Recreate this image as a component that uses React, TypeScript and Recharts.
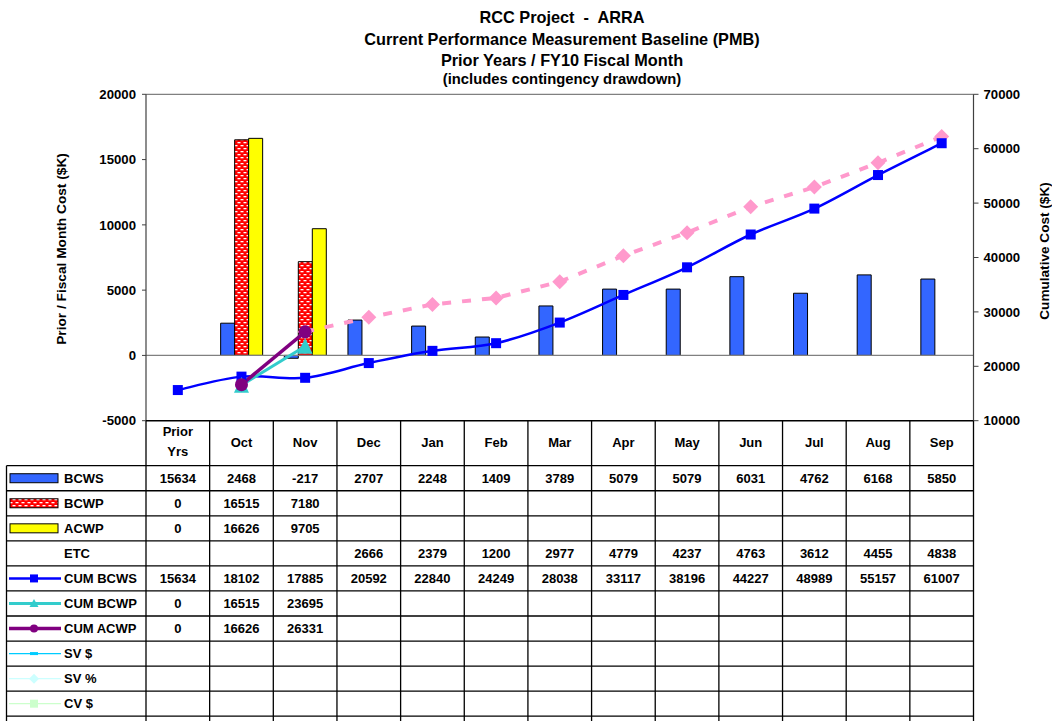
import React from 'react';
import { ComposedChart, Bar, Line, XAxis, YAxis, ReferenceLine } from 'recharts';

const categories = ['Prior Yrs', 'Oct', 'Nov', 'Dec', 'Jan', 'Feb', 'Mar', 'Apr', 'May', 'Jun', 'Jul', 'Aug', 'Sep'];
const bcws = [15634, 2468, -217, 2707, 2248, 1409, 3789, 5079, 5079, 6031, 4762, 6168, 5850];
const bcwp = [0, 16515, 7180, null, null, null, null, null, null, null, null, null, null];
const acwp = [0, 16626, 9705, null, null, null, null, null, null, null, null, null, null];
const etc = [null, null, null, 2666, 2379, 1200, 2977, 4779, 4237, 4763, 3612, 4455, 4838];
const cumBcws = [15634, 18102, 17885, 20592, 22840, 24249, 28038, 33117, 38196, 44227, 48989, 55157, 61007];
const cumBcwp = [0, 16515, 23695, null, null, null, null, null, null, null, null, null, null];
const cumAcwp = [0, 16626, 26331, null, null, null, null, null, null, null, null, null, null];
const cumEtc = [null, null, 26331, 28997, 31376, 32576, 35553, 40332, 44569, 49332, 52944, 57399, 62237];
const leftTicks = [-5000, 0, 5000, 10000, 15000, 20000];
const rightTicks = [10000, 20000, 30000, 40000, 50000, 60000, 70000];
const titleLines = ['RCC Project  -  ARRA', 'Current Performance Measurement Baseline (PMB)', 'Prior Years / FY10 Fiscal Month', '(includes contingency drawdown)'];

// Prior-year values are shown in the table only, not plotted
const data = categories.map((c, i) => ({
  cat: c,
  bcws: i === 0 ? null : bcws[i],
  bcwp: i === 0 ? null : bcwp[i],
  acwp: i === 0 ? null : acwp[i],
  cumBcws: cumBcws[i],
  cumBcwp: i === 0 ? null : cumBcwp[i],
  cumAcwp: i === 0 ? null : cumAcwp[i],
  cumEtc: cumEtc[i],
}));

const FONT = '"Liberation Sans", Arial, sans-serif';

// Excel-like smoothed line (Catmull-Rom style Bezier)
const excelSmooth = (context: any) => {
  let pts: number[][] = [];
  return {
    areaStart() {},
    areaEnd() {},
    lineStart() { pts = []; },
    point(x: number, y: number) { pts.push([+x, +y]); },
    lineEnd() {
      const n = pts.length;
      if (!n) return;
      context.moveTo(pts[0][0], pts[0][1]);
      for (let i = 0; i < n - 1; i++) {
        const p0 = pts[Math.max(i - 1, 0)];
        const p1 = pts[i];
        const p2 = pts[i + 1];
        const p3 = pts[Math.min(i + 2, n - 1)];
        context.bezierCurveTo(
          p1[0] + (p2[0] - p0[0]) / 6, p1[1] + (p2[1] - p0[1]) / 6,
          p2[0] - (p3[0] - p1[0]) / 6, p2[1] - (p3[1] - p1[1]) / 6,
          p2[0], p2[1]
        );
      }
    },
  };
};

const marker = (shape: string, color: string, s: number) => (props: any) => {
  const { cx, cy, index, value } = props;
  const key = `m${shape}${index}`;
  if (cx == null || cy == null || value == null) return <g key={key} />;
  if (shape === 'square') return <rect key={key} x={cx - s / 2} y={cy - s / 2} width={s} height={s} fill={color} />;
  if (shape === 'diamond')
    return <polygon key={key} points={`${cx},${cy - s / 2} ${cx + s / 2},${cy} ${cx},${cy + s / 2} ${cx - s / 2},${cy}`} fill={color} />;
  if (shape === 'triangle')
    return <polygon key={key} points={`${cx},${cy - s * 0.55} ${cx + s / 2},${cy + s * 0.5} ${cx - s / 2},${cy + s * 0.5}`} fill={color} />;
  return <circle key={key} cx={cx} cy={cy} r={s / 2} fill={color} />;
};

const PLOT_L = 146;
const PLOT_R = 973.5;
const COLW = (PLOT_R - PLOT_L) / categories.length;
const HEAD_T = 420.7;
const HEAD_B = 465.7;
const ROWH = 25.05;
const LEG_L = 6.5;

const fmt = (v: number | null) => (v == null ? '' : String(v));

const tableRows = [
  { label: 'BCWS', values: bcws, sw: 'bar', color: '#3366FF' },
  { label: 'BCWP', values: bcwp, sw: 'bar', color: 'url(#redDots)' },
  { label: 'ACWP', values: acwp, sw: 'bar', color: '#FFFF00' },
  { label: 'ETC', values: etc, sw: 'none', color: '' },
  { label: 'CUM BCWS', values: cumBcws, sw: 'line', color: '#0000FF', m: 'square', w: 2.5 },
  { label: 'CUM BCWP', values: cumBcwp, sw: 'line', color: '#33CCCC', m: 'triangle', w: 3 },
  { label: 'CUM ACWP', values: cumAcwp, sw: 'line', color: '#800080', m: 'circle', w: 3.5 },
  { label: 'SV $', values: [], sw: 'line', color: '#00CCFF', m: 'dash', w: 1.2 },
  { label: 'SV %', values: [], sw: 'line', color: '#CCFFFF', m: 'diamond', w: 1.2 },
  { label: 'CV $', values: [], sw: 'line', color: '#CCFFCC', m: 'square', w: 1.2 },
  { label: '', values: [], sw: 'none', color: '' },
];

// title placement: baseline y, font size
const titleLayout = [
  { y: 23.4, fs: 16.3 },
  { y: 44.7, fs: 16.3 },
  { y: 66, fs: 16.3 },
  { y: 84, fs: 14.8 },
];

const Swatch = ({ row, y }: any) => {
  if (row.sw === 'bar') return <rect x={10} y={y - 4.5} width={48} height={9} fill={row.color} stroke="#000" strokeWidth={1} />;
  if (row.sw === 'line') {
    const cx = 34;
    let m: any = null;
    if (row.m === 'square') m = <rect x={cx - 4} y={y - 4} width={8} height={8} fill={row.color} />;
    if (row.m === 'triangle') m = <polygon points={`${cx},${y - 4.5} ${cx + 4.5},${y + 3.5} ${cx - 4.5},${y + 3.5}`} fill={row.color} />;
    if (row.m === 'circle') m = <circle cx={cx} cy={y} r={4} fill={row.color} />;
    if (row.m === 'diamond') m = <polygon points={`${cx},${y - 5} ${cx + 5},${y} ${cx},${y + 5} ${cx - 5},${y}`} fill={row.color} />;
    if (row.m === 'dash') m = <rect x={cx - 4} y={y - 1.5} width={8} height={3} fill={row.color} />;
    return (
      <g>
        <line x1={9} x2={61} y1={y} y2={y} stroke={row.color} strokeWidth={row.w} />
        {m}
      </g>
    );
  }
  return null;
};

const Overlay = () => {
  const colEdges = Array.from({ length: categories.length + 1 }, (_, i) => PLOT_L + i * COLW);
  const rowEdges = tableRows.map((_, r) => HEAD_B + r * ROWH);
  const txt = { fontFamily: FONT, fontWeight: 700, fill: '#000' } as any;
  return (
    <svg width={1052} height={721} style={{ position: 'absolute', left: 0, top: 0, pointerEvents: 'none' }}>
      {/* titles */}
      {titleLines.map((t, i) => (
        <text
          key={t}
          x={562}
          y={titleLayout[i].y}
          textAnchor="middle"
          style={{ ...txt, fontSize: titleLayout[i].fs, whiteSpace: 'pre' }}
        >
          {t}
        </text>
      ))}
      {/* axis titles */}
      <text transform="translate(66,249) rotate(-90)" textAnchor="middle" style={{ ...txt, fontSize: 13.7 }}>
        Prior / Fiscal Month Cost ($K)
      </text>
      <text transform="translate(1048.5,251) rotate(-90)" textAnchor="middle" style={{ ...txt, fontSize: 13.6 }}>
        Cumulative Cost ($K)
      </text>
      {/* table grid */}
      <line x1={PLOT_L} x2={PLOT_R} y1={HEAD_T} y2={HEAD_T} stroke="#000" strokeWidth={1.5} />
      {rowEdges.map((y, r) => (
        <line key={'h' + r} x1={LEG_L} x2={PLOT_R} y1={y} y2={y} stroke="#000" strokeWidth={1.3} />
      ))}
      <line x1={LEG_L} x2={LEG_L} y1={HEAD_B} y2={721} stroke="#000" strokeWidth={1.3} />
      {colEdges.map((x, i) => (
        <line key={'v' + i} x1={x} x2={x} y1={HEAD_T} y2={721} stroke="#000" strokeWidth={1.3} />
      ))}
      {/* header */}
      {categories.map((c, i) => {
        const cx = PLOT_L + (i + 0.5) * COLW;
        if (c === 'Prior Yrs')
          return (
            <text key={c} x={cx} textAnchor="middle" style={{ ...txt, fontSize: 13 }}>
              <tspan x={cx} y={436}>Prior</tspan>
              <tspan x={cx} y={456}>Yrs</tspan>
            </text>
          );
        return (
          <text key={c} x={cx} y={447} textAnchor="middle" style={{ ...txt, fontSize: 13 }}>
            {c}
          </text>
        );
      })}
      {/* rows */}
      {tableRows.map((row, r) => {
        const mid = HEAD_B + r * ROWH + ROWH / 2;
        return (
          <g key={'r' + r}>
            <Swatch row={row} y={mid} />
            <text x={64} y={mid + 4.6} style={{ ...txt, fontSize: 13 }}>
              {row.label}
            </text>
            {row.values.map((v: any, i: number) => (
              <text key={i} x={PLOT_L + (i + 0.5) * COLW} y={mid + 4.6} textAnchor="middle" style={{ ...txt, fontSize: 13 }}>
                {fmt(v)}
              </text>
            ))}
          </g>
        );
      })}
    </svg>
  );
};

export default function App() {
  return (
    <div style={{ position: 'absolute', left: 0, top: 0, width: 1052, height: 721, background: '#fff' }}>
      <svg width={0} height={0} style={{ position: 'absolute' }}>
        <defs>
          <pattern id="redDots" patternUnits="userSpaceOnUse" width={6} height={6}>
            <rect width={6} height={6} fill="#FF0000" />
            <rect x={0.5} y={1} width={3} height={1.3} fill="#FFFFFF" />
            <rect x={3.5} y={4} width={3} height={1.3} fill="#FFFFFF" />
            <rect x={-2.5} y={4} width={3} height={1.3} fill="#FFFFFF" />
          </pattern>
        </defs>
      </svg>
      <ComposedChart
        width={1052}
        height={721}
        data={data}
        margin={{ top: 94.3, bottom: 300.3, left: 56, right: 18.5 }}
        barGap={0}
        barSize={14}
      >
        <XAxis dataKey="cat" hide />
        <YAxis
          yAxisId="left"
          width={90}
          domain={[-5000, 20000]}
          ticks={leftTicks}
          interval={0}
          allowDataOverflow
          axisLine={{ stroke: '#404040', strokeWidth: 1.2 }}
          tickLine={{ stroke: '#404040' }}
          tickSize={4}
          tickMargin={6}
          tick={{ fontFamily: FONT, fontWeight: 700, fontSize: 13.2, fill: '#000' }}
        />
        <YAxis
          yAxisId="right"
          orientation="right"
          width={60}
          domain={[10000, 70000]}
          ticks={rightTicks}
          interval={0}
          allowDataOverflow
          axisLine={{ stroke: '#404040', strokeWidth: 1.2 }}
          tickLine={{ stroke: '#404040' }}
          tickSize={5}
          tickMargin={5}
          tick={{ fontFamily: FONT, fontWeight: 700, fontSize: 13.2, fill: '#000', textAnchor: 'start' }}
        />
        <ReferenceLine yAxisId="left" y={20000} stroke="#808080" strokeWidth={1.2} />
        <ReferenceLine yAxisId="left" y={0} stroke="#808080" strokeWidth={1.2} />
        <Bar yAxisId="left" dataKey="bcws" fill="#3366FF" stroke="#000" strokeWidth={1} isAnimationActive={false} />
        <Bar yAxisId="left" dataKey="bcwp" fill="url(#redDots)" stroke="#000" strokeWidth={1} isAnimationActive={false} />
        <Bar yAxisId="left" dataKey="acwp" fill="#FFFF00" stroke="#000" strokeWidth={1} isAnimationActive={false} />
        <Line
          yAxisId="right"
          dataKey="cumEtc"
          type="linear"
          stroke="#FF99CC"
          strokeWidth={4}
          strokeDasharray="9 11"
          dot={marker('diamond', '#FF99CC', 15)}
          isAnimationActive={false}
        />
        <Line
          yAxisId="right"
          dataKey="cumBcws"
          type={excelSmooth as any}
          stroke="#0000FF"
          strokeWidth={2.5}
          dot={marker('square', '#0000FF', 10)}
          isAnimationActive={false}
        />
        <Line
          yAxisId="right"
          dataKey="cumBcwp"
          type="linear"
          stroke="#33CCCC"
          strokeWidth={3}
          dot={marker('triangle', '#33CCCC', 15)}
          isAnimationActive={false}
        />
        <Line
          yAxisId="right"
          dataKey="cumAcwp"
          type="linear"
          stroke="#800080"
          strokeWidth={3.5}
          dot={marker('circle', '#800080', 13)}
          isAnimationActive={false}
        />
      </ComposedChart>
      <Overlay />
    </div>
  );
}
